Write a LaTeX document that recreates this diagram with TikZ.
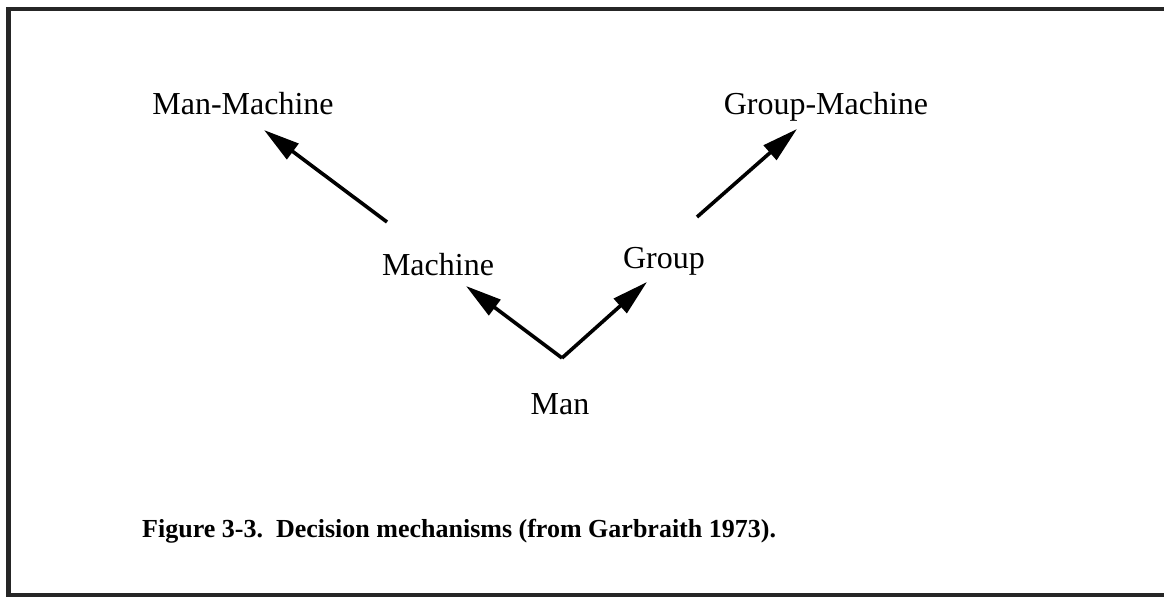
\documentclass[tikz,border=0pt]{standalone}
\usepackage{fontspec}
\setmainfont{Liberation Serif}
\usetikzlibrary{arrows.meta}
\begin{document}
\begin{tikzpicture}[x=1pt,y=-1pt,
  label/.style={anchor=base,inner sep=0pt,font=\fontsize{32}{38}\selectfont},
  caption/.style={anchor=base west,inner sep=0pt,font=\fontsize{26}{31}\selectfont\bfseries},
  link/.style={line width=3.6pt,-{Triangle[length=36pt,width=19pt]}},
  frame/.style={line width=4.5pt,line join=miter,color=black!85}]
  \useasboundingbox (0,0) rectangle (1164,599);
  % open frame (top, left and bottom rules)
  \draw[frame] (1164,9) -- (8.5,9) -- (8.5,595) -- (1164,595);

  % labels
  \node[label] (manmachine)   at (243,115) {Man-Machine};
  \node[label] (groupmachine) at (826,114) {Group-Machine};
  \node[label] (machine)      at (438,275) {Machine};
  \node[label] (group)        at (664,268) {Group};
  \node[label] (man)          at (560,414) {Man};
  \node[caption] (cap) at (142,537) {Figure 3-3.\ \ Decision mechanisms (from Garbraith 1973).};

  % arrow end points
  \coordinate (root) at (562,358);
  \coordinate (machinetip) at (466,286);
  \coordinate (grouptip) at (647,282);
  \coordinate (mmtail) at (387,222);
  \coordinate (mmtip) at (264,130);
  \coordinate (gmtail) at (697,217);
  \coordinate (gmtip) at (797,129);

  % arrows
  \draw[link] (root) -- (machinetip);
  \draw[link] (root) -- (grouptip);
  \draw[link] (mmtail) -- (mmtip);
  \draw[link] (gmtail) -- (gmtip);
\end{tikzpicture}
\end{document}
